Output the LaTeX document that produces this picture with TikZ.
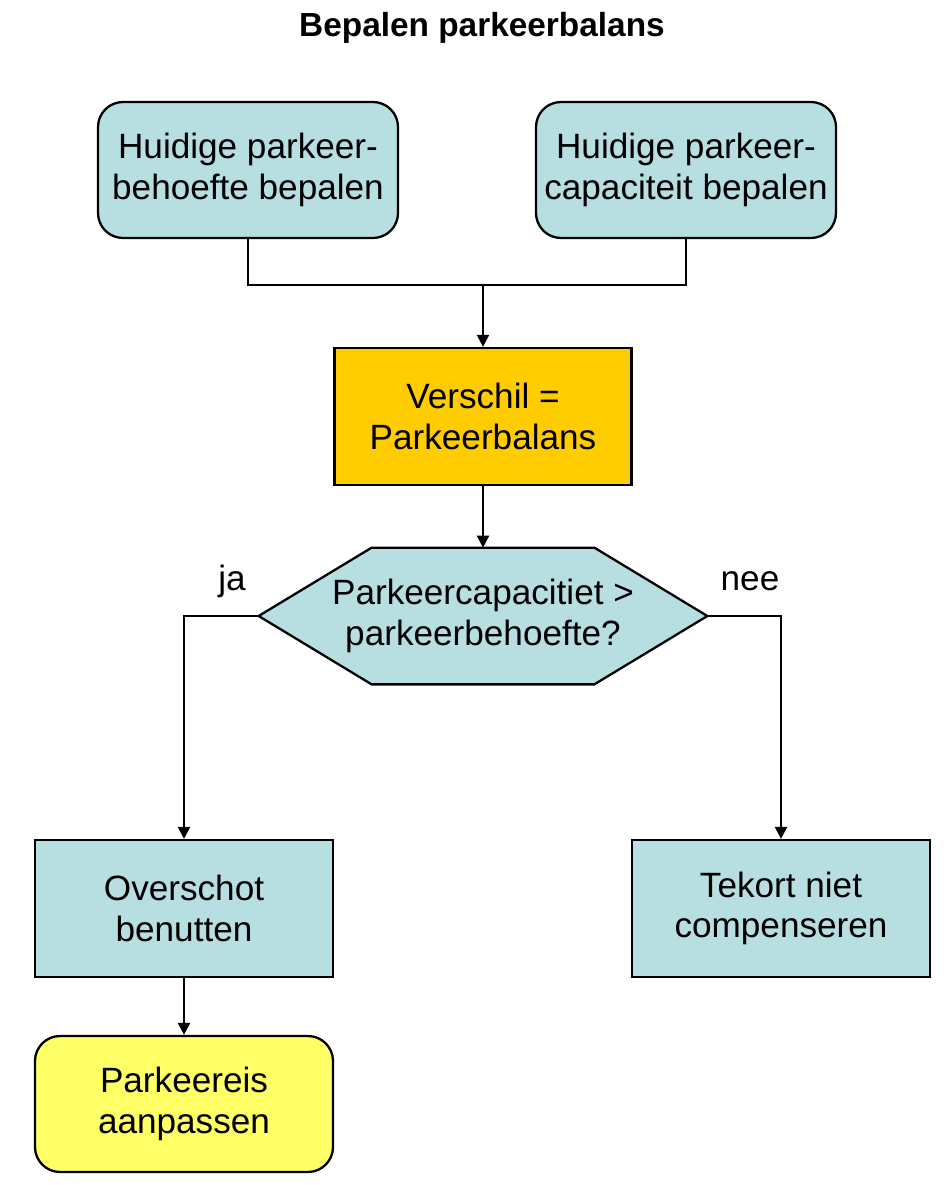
\documentclass[tikz,border=0pt]{standalone}
\usepackage{fontspec}
\setmainfont{Liberation Sans}
\usetikzlibrary{arrows.meta}
\definecolor{lichtblauw}{RGB}{183,222,225}
\definecolor{oranje}{RGB}{255,204,0}
\definecolor{geel}{RGB}{255,255,102}
\begin{document}
\begin{tikzpicture}[
  box/.style={draw, line width=1.3pt, fill=lichtblauw, align=center,
    minimum width=5.96cm, minimum height=2.72cm,
    font=\fontsize{20}{23}\selectfont},
  roundbox/.style={box, rounded corners=0.5cm},
  lijn/.style={line width=1.3pt},
  pijl/.style={lijn, -{Triangle[length=0.24cm,width=0.24cm]}}
]
\useasboundingbox (0,0) rectangle (19,-23.7);

\node[font=\fontsize{19}{23}\selectfont\bfseries] (titel) at (9.64,-0.56) {Bepalen parkeerbalans};

\node[roundbox, minimum width=6cm] (behoefte) at (4.96,-3.40) {Huidige parkeer-\\behoefte bepalen};
\node[roundbox, minimum width=6cm] (capaciteit) at (13.72,-3.40) {Huidige parkeer-\\capaciteit bepalen};
\node[box, fill=oranje, minimum width=5.94cm, minimum height=2.74cm] (verschil) at (9.66,-8.33) {Verschil =\\Parkeerbalans};

% zeshoek
\node[minimum width=8.96cm, minimum height=2.72cm, align=center,
  font=\fontsize{20}{23}\selectfont] (vraag) at (9.66,-12.32) {};
\filldraw[lijn, fill=lichtblauw] (vraag.west) -- ([xshift=2.26cm]vraag.north west)
  -- ([xshift=-2.26cm]vraag.north east) -- (vraag.east)
  -- ([xshift=-2.26cm]vraag.south east) -- ([xshift=2.26cm]vraag.south west) -- cycle;
\node[align=center, font=\fontsize{20}{23}\selectfont] at (vraag) {Parkeercapacitiet >\\parkeerbehoefte?};

\node[box, minimum height=2.74cm] (overschot) at (3.68,-18.17) {Overschot\\benutten};
\node[box, minimum height=2.74cm] (tekort) at (15.62,-18.17) {Tekort niet\\compenseren};
\node[roundbox, fill=geel] (eis) at (3.68,-22.08) {Parkeereis\\aanpassen};

\coordinate (samen) at (9.66,-5.70);
\draw[lijn] (behoefte.south) |- (samen) -| (capaciteit.south);
\draw[pijl] (samen) -- (verschil.north);
\draw[pijl] (verschil.south) -- (vraag.north);
\draw[pijl] (vraag.west) -| (overschot.north);
\draw[pijl] (vraag.east) -| (tekort.north);
\draw[pijl] (overschot.south) -- (eis.north);

\node[font=\fontsize{20}{23}\selectfont] at (4.64,-11.62) {ja};
\node[font=\fontsize{20}{23}\selectfont] at (15.0,-11.62) {nee};
\end{tikzpicture}
\end{document}
